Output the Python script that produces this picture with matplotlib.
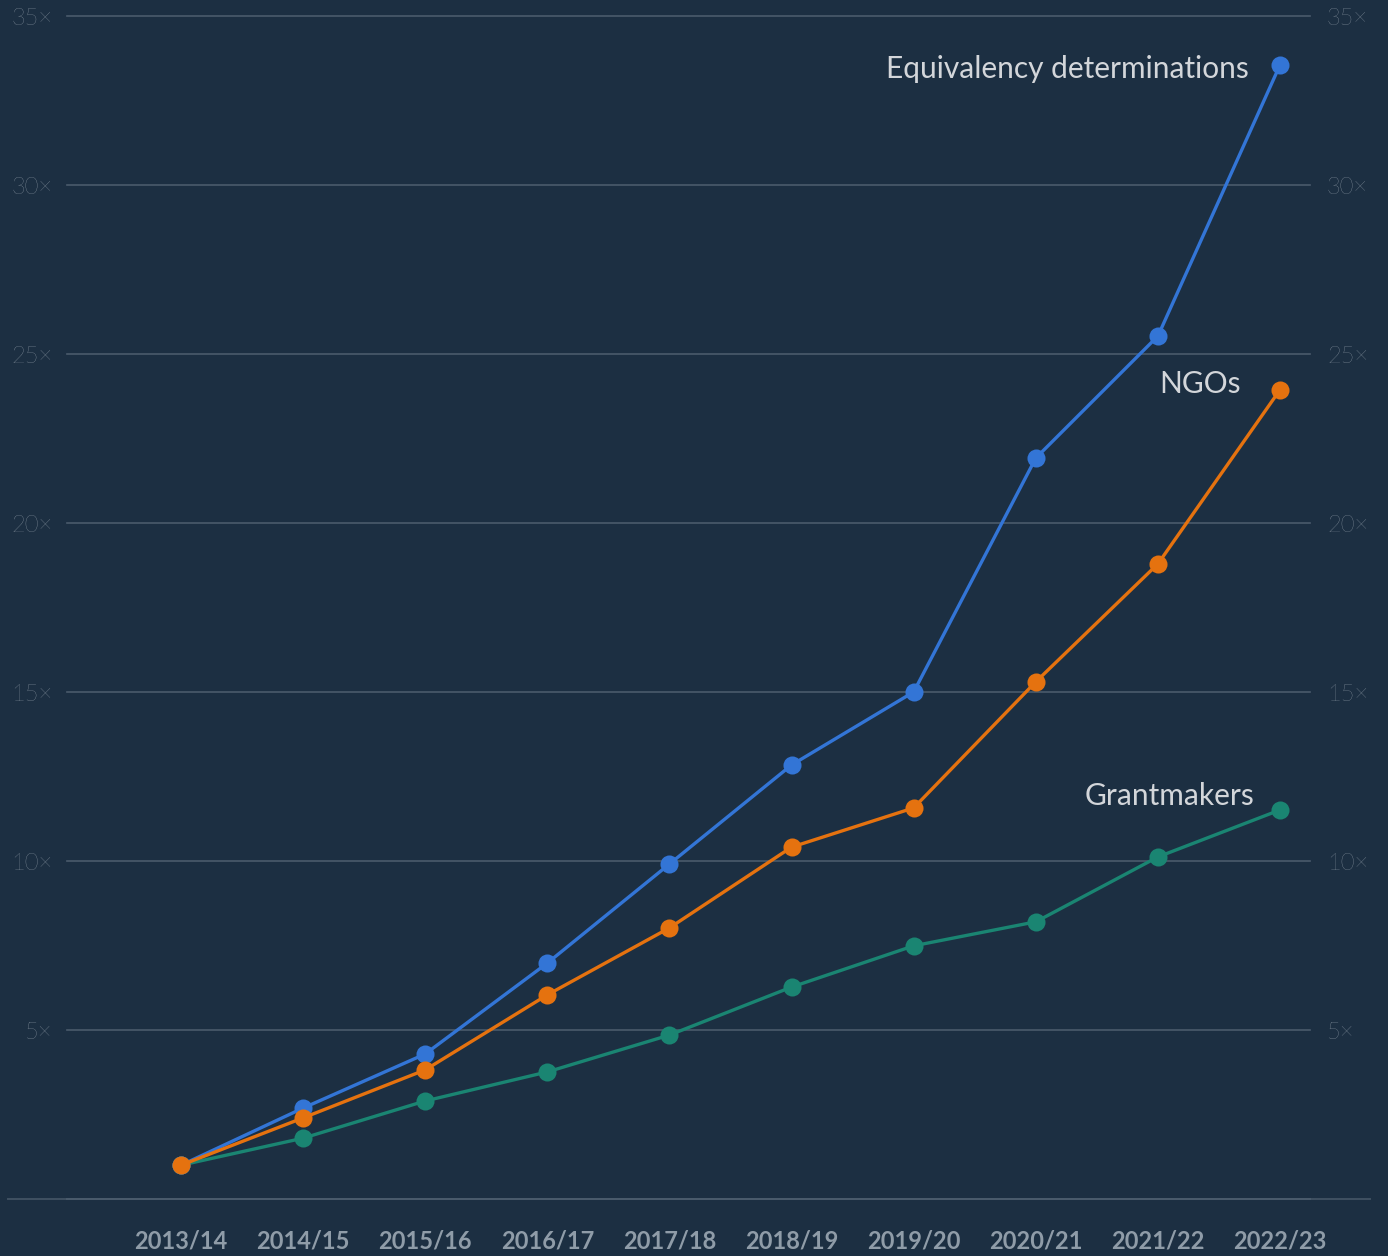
import matplotlib.pyplot as plt

# Dados: crescimento relativo a 2013/14
anos = ["2013/14", "2014/15", "2015/16", "2016/17", "2017/18",
        "2018/19", "2019/20", "2020/21", "2021/22", "2022/23"]
equivalencia = [1.0, 2.69, 4.29, 6.98, 9.91, 12.84, 15.0, 21.92, 25.53, 33.55]
ongs = [1.0, 2.40, 3.82, 6.04, 8.02, 10.41, 11.57, 15.30, 18.79, 23.94]
financiadores = [1.0, 1.80, 2.90, 3.76, 4.85, 6.27, 7.49, 8.20, 10.12, 11.51]
ticks_y = [5, 10, 15, 20, 25, 30, 35]

fundo = "#1c2f42"
cor_grade = "#4a5b6c"
cor_tick = "#8f9ca8"
cor_rotulo = "#d3d6da"

fig = plt.figure(figsize=(13.88, 12.56), dpi=100, facecolor=fundo)
ax = fig.add_axes([0, 0, 1, 1])
ax.set_facecolor(fundo)
ax.set_xlim(-1.482, 9.884)
ax.set_ylim(-1.686, 35.47)
ax.axis("off")

# Linhas de grade e eixo base
trans = ax.get_yaxis_transform()
for v in ticks_y:
    ax.plot([0.0483, 0.9438], [v, v], transform=trans, color=cor_grade, lw=1.2, zorder=1)
    ax.text(0.038, v - 0.08, f"{v}×", transform=trans, ha="right", va="center",
            fontsize=17, color="#a3aeb8", family="Lato", fontweight="light")
    ax.text(0.956, v - 0.08, f"{v}×", transform=trans, ha="left", va="center",
            fontsize=17, color="#a3aeb8", family="Lato", fontweight="light")
ax.plot([0.006, 0.987], [0, 0], transform=trans, color="#3f5061", lw=1.4, zorder=1)
ax.plot([0.0483, 0.9438], [0, 0], transform=trans, color=cor_grade, lw=1.4, zorder=1)

# Rotulos dos anos
xs = list(range(len(anos)))
for x, a in zip(xs, anos):
    ax.text(x, -1.23, a, ha="center", va="center", fontsize=17,
            color=cor_tick, family="Lato", fontweight="bold")

series = [
    (financiadores, "#1a8572", "Grantmakers", (-26, 14)),
    (equivalencia, "#3375d6", "Equivalency determinations", (-31, -4)),
    (ongs, "#e5720f", "NGOs", (-39, 6)),
]
for vals, cor, nome, off in series:
    ax.plot(xs, vals, color=cor, lw=2.4, marker="o", markersize=13,
            markeredgewidth=0, zorder=3)
    ax.annotate(nome, (xs[-1], vals[-1]), xytext=off, textcoords="offset pixels",
                ha="right", va="center", fontsize=21.5, color=cor_rotulo,
                family="Lato")

fig.savefig("out.png", dpi=100, facecolor=fundo)
